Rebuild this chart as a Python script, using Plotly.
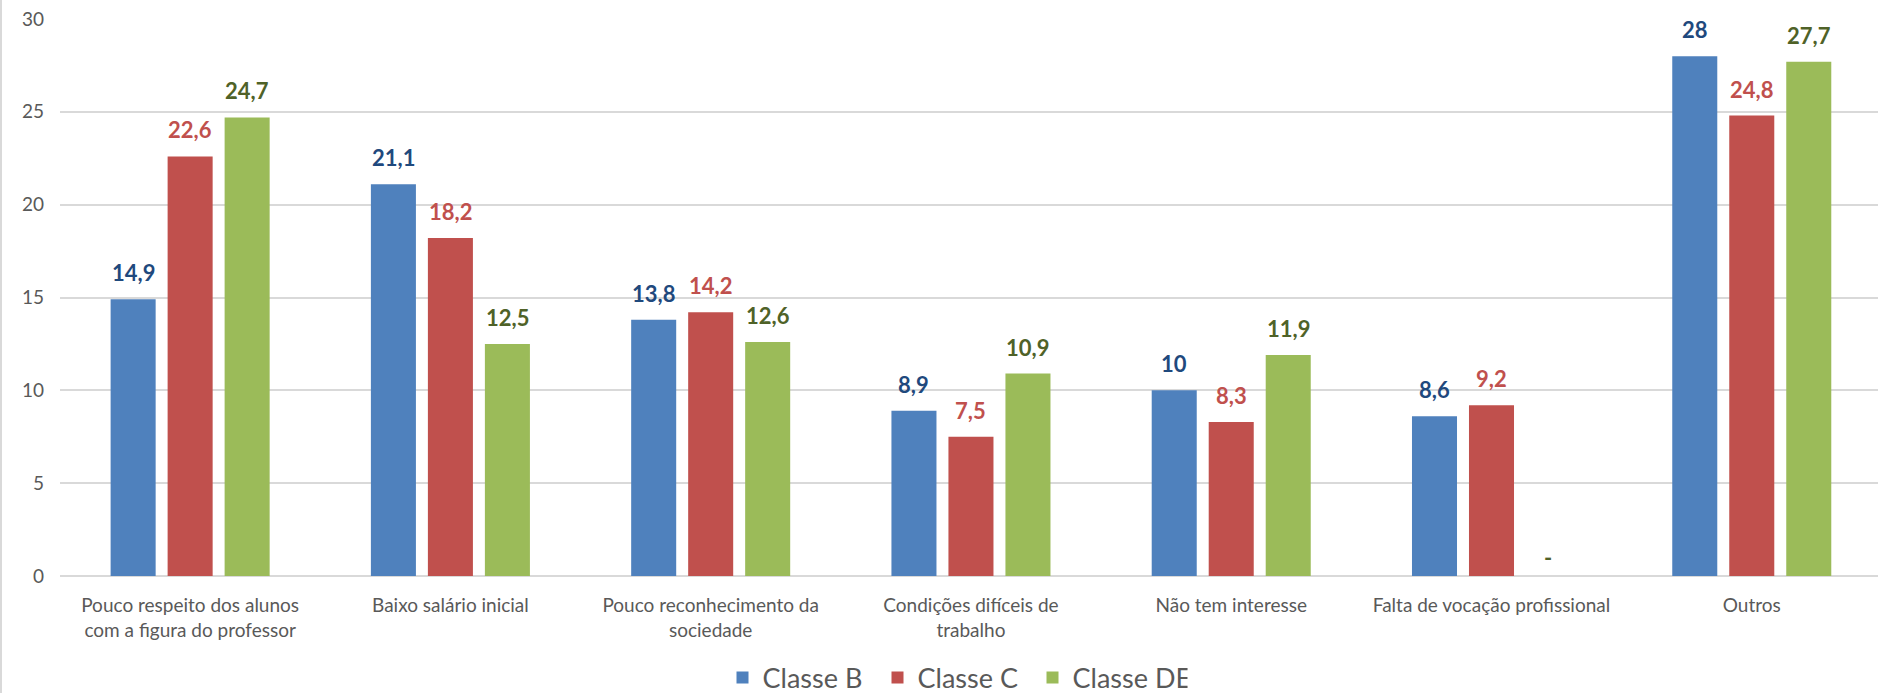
import plotly.graph_objects as go

categories = [
    "Pouco respeito dos alunos<br>com a figura do professor",
    "Baixo salário inicial",
    "Pouco reconhecimento da<br>sociedade",
    "Condições difíceis de<br>trabalho",
    "Não tem interesse",
    "Falta de vocação profissional",
    "Outros",
]
classe_b = [14.9, 21.1, 13.8, 8.9, 10, 8.6, 28]
classe_c = [22.6, 18.2, 14.2, 7.5, 8.3, 9.2, 24.8]
classe_de = [24.7, 12.5, 12.6, 10.9, 11.9, None, 27.7]
series_names = ["Classe B", "Classe C", "Classe DE"]
y_ticks = [0, 5, 10, 15, 20, 25, 30]

bar_colors = ["#4F81BD", "#C0504D", "#9BBB59"]
label_colors = ["#1F497D", "#C0504D", "#4F6228"]

W, H = 1878, 693
ML, MR, MT, MB = 60, 0, 19, 117
plot_w = W - ML - MR
plot_h = H - MT - MB
xr = [-0.5, 6.485]
bargap = 0.343
px_per_unit = plot_w / (xr[1] - xr[0])
slot_px = (1 - bargap) / 3 * px_per_unit


def fmt(v):
    if v is None:
        return "-"
    if float(v).is_integer():
        return str(int(v))
    return f"{v:.1f}".replace(".", ",")


fig = go.Figure()
annotations = []
all_series = [classe_b, classe_c, classe_de]
for i, (name, vals) in enumerate(zip(series_names, all_series)):
    fig.add_trace(go.Bar(
        name=name,
        x=list(range(len(categories))),
        y=[v if v is not None else 0 for v in vals],
        marker=dict(color=bar_colors[i], line=dict(width=0)),
        hoverinfo="skip",
    ))
    for j, v in enumerate(vals):
        annotations.append(dict(
            x=j, y=v if v is not None else 0, xref="x", yref="y",
            text=f"<b>{fmt(v)}</b>", showarrow=False,
            xanchor="center", yanchor="bottom",
            xshift=(i - 1) * slot_px, yshift=11 if v is not None else 3,
            font=dict(family="Lato", size=22, color=label_colors[i]),
        ))

fig.update_layout(
    width=W, height=H,
    margin=dict(l=ML, r=MR, t=MT, b=MB, pad=0, autoexpand=False),
    paper_bgcolor="white", plot_bgcolor="white",
    barmode="group", bargap=bargap, bargroupgap=0.21,
    font=dict(family="Lato", size=19, color="#595959"),
    annotations=annotations,
    showlegend=True,
    legend=dict(
        orientation="h", x=(955 - ML) / plot_w, xanchor="center",
        y=-(678 - (H - MB)) / plot_h, yanchor="middle",
        font=dict(family="Lato", size=27, color="#595959"),
        entrywidth=110, entrywidthmode="pixels",
        itemclick=False, itemdoubleclick=False,
    ),
    shapes=[dict(type="line", xref="paper", yref="paper",
                 x0=(1 - ML) / plot_w, x1=(1 - ML) / plot_w,
                 y0=-MB / plot_h, y1=1 + MT / plot_h,
                 line=dict(color="#D9D9D9", width=2))],
)
fig.update_xaxes(
    range=xr, tickmode="array", tickvals=list(range(len(categories))),
    ticktext=categories, showgrid=False, showline=False, ticks="",
    tickfont=dict(family="Lato", size=19, color="#595959"),
    ticklabelstandoff=16, fixedrange=True, automargin=False,
)
fig.update_yaxes(
    range=[0, 30], tickmode="array", tickvals=y_ticks,
    showgrid=True, gridcolor="#D9D9D9", gridwidth=1.5,
    zeroline=True, zerolinecolor="#D9D9D9", zerolinewidth=2,
    showline=False, ticks="", ticklabelstandoff=15,
    tickfont=dict(family="Lato", size=19, color="#595959"), fixedrange=True,
    automargin=False,
)

fig.write_html(
    "out.html",
    config={"displayModeBar": False},
    post_script="document.body.style.margin='0px';document.body.style.overflow='hidden';",
)
